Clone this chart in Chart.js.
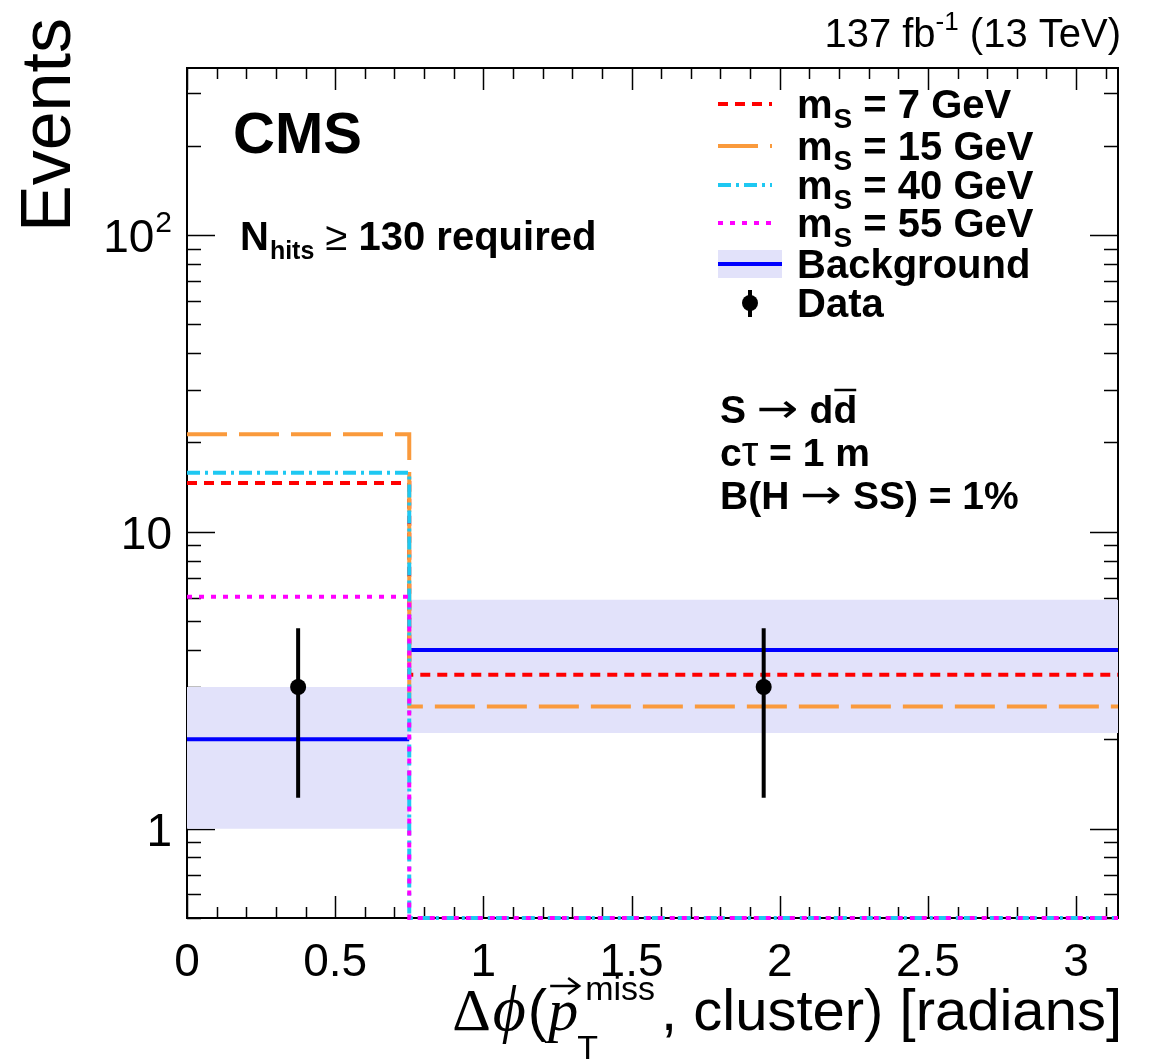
<!DOCTYPE html>
<html><head><meta charset="utf-8">
<script src="https://cdn.jsdelivr.net/npm/chart.js@4"></script>
<style>html,body{margin:0;padding:0;background:#fff}canvas{display:block}</style>
</head><body>
<canvas id="c" width="1149" height="1061"></canvas>
<script>
// ---- data ----
const binEdges = [0, 0.75, Math.PI];
const binCenters = [0.375, 1.946];
const background = [2.0, 4.0];
const backgroundUp = [3.0, 5.9];
const backgroundDown = [1.0, 2.1];
const dataValues = [3, 3];
const dataErrors = [1.73, 1.73];
const sigM7 = [14.6, 3.3];
const sigM15 = [21.3, 2.58];
const sigM40 = [15.8, 0];
const sigM55 = [6.04, 0];
const xTickValues = [0, 0.5, 1, 1.5, 2, 2.5, 3];
const xTickLabels = ['0', '0.5', '1', '1.5', '2', '2.5', '3'];
const yMajorValues = [1, 10, 100];
const yMajorLabels = [['1', ''], ['10', ''], ['10', '2']];
const yMin = 0.5, yMax = 365;

const SANS = '"Liberation Sans", Arial, Helvetica, sans-serif';
const SERIF = '"Liberation Serif", "DejaVu Serif", "Times New Roman", serif';
const ARROWF = '"DejaVu Sans", sans-serif';
const C_RED = '#ff0000', C_ORANGE = '#fa9a3c', C_CYAN = '#1ec8f2', C_MAG = '#ff00ff', C_BLUE = '#0000ff', C_BAND = '#e2e2fa';

function steps(vals) {
  const pts = [];
  for (let i = 0; i < vals.length; i++) {
    const v = vals[i] > 0 ? vals[i] : yMin;
    pts.push({x: binEdges[i], y: v}, {x: binEdges[i + 1], y: v});
  }
  return pts;
}
function segments(vals) {
  const pts = [];
  for (let i = 0; i < vals.length; i++) {
    if (i > 0) pts.push({x: binEdges[i], y: null});
    pts.push({x: binEdges[i], y: vals[i]}, {x: binEdges[i + 1], y: vals[i]});
  }
  return pts;
}
function lineDs(label, data, color, dash, width, order) {
  return {label, data, borderColor: color, borderWidth: width, borderDash: dash, spanGaps: false,
    pointRadius: 0, fill: false, tension: 0, order, borderCapStyle: 'butt', borderJoinStyle: 'miter', clip: 6};
}

function rich(ctx, segs, x, y, align) {
  let w = 0;
  segs.forEach(s => { ctx.font = s.f; s.w = (s.sx || 1) * ctx.measureText(s.t).width; w += s.w + (s.dx || 0); });
  let cx = align === 'right' ? x - w : (align === 'center' ? x - w / 2 : x);
  segs.forEach(s => {
    ctx.font = s.f;
    if (s.sx) {
      ctx.save(); ctx.translate(cx + (s.dx || 0), y + (s.dy || 0)); ctx.scale(s.sx, 1);
      ctx.fillText(s.t, 0, 0); ctx.restore();
    } else {
      ctx.fillText(s.t, cx + (s.dx || 0), y + (s.dy || 0));
    }
    s.x = cx + (s.dx || 0);
    cx += s.w + (s.dx || 0);
  });
  return segs;
}

const decor = {
  id: 'decor',
  beforeDatasetsDraw(chart) {
    const ctx = chart.ctx, xs = chart.scales.x, ys = chart.scales.y, a = chart.chartArea;
    ctx.save();
    ctx.strokeStyle = '#000'; ctx.lineWidth = 2;
    ctx.strokeRect(a.left, a.top, a.right - a.left, a.bottom - a.top);
    ctx.lineWidth = 1.5;
    for (let k = 0; k <= 31; k++) {
      const v = k / 10;
      const px = Math.round(xs.getPixelForValue(v)) + 0.5;
      const len = (k % 5 === 0) ? 22 : 11;
      ctx.beginPath();
      ctx.moveTo(px, a.bottom); ctx.lineTo(px, a.bottom - len);
      ctx.moveTo(px, a.top); ctx.lineTo(px, a.top + len);
      ctx.stroke();
    }
    [0.1, 1, 10, 100].forEach(d => {
      for (let m = 1; m <= 9; m++) {
        const v = d * m;
        if (v < yMin || v > yMax) continue;
        const py = Math.round(ys.getPixelForValue(v)) + 0.5;
        const len = (m === 1) ? 28 : 14;
        ctx.beginPath();
        ctx.moveTo(a.left, py); ctx.lineTo(a.left + len, py);
        ctx.moveTo(a.right, py); ctx.lineTo(a.right - len, py);
        ctx.stroke();
      }
    });
    ctx.restore();
  },
  afterDatasetsDraw(chart) {
    const ctx = chart.ctx, xs = chart.scales.x, ys = chart.scales.y;
    ctx.save();
    ctx.strokeStyle = '#000'; ctx.lineWidth = 4;
    for (let i = 0; i < binCenters.length; i++) {
      const px = xs.getPixelForValue(binCenters[i]);
      ctx.beginPath();
      ctx.moveTo(px, ys.getPixelForValue(dataValues[i] - dataErrors[i]));
      ctx.lineTo(px, ys.getPixelForValue(dataValues[i] + dataErrors[i]));
      ctx.stroke();
    }
    ctx.restore();
  },
  afterDraw(chart) {
    const ctx = chart.ctx, xs = chart.scales.x, ys = chart.scales.y;
    ctx.save();
    ctx.fillStyle = '#000'; ctx.strokeStyle = '#000';
    ctx.textBaseline = 'alphabetic'; ctx.textAlign = 'left';
    // x tick labels
    xTickValues.forEach((v, i) => {
      rich(ctx, [{t: xTickLabels[i], f: '46px ' + SANS}], xs.getPixelForValue(v), 976, 'center');
    });
    // y tick labels
    yMajorValues.forEach((v, i) => {
      const py = ys.getPixelForValue(v);
      const segs = [{t: yMajorLabels[i][0], f: '46px ' + SANS}];
      if (yMajorLabels[i][1]) segs.push({t: yMajorLabels[i][1], f: '30px ' + SANS, dy: -20, dx: 1});
      rich(ctx, segs, 172, py + 17, 'right');
    });
    // y title
    ctx.save();
    ctx.translate(70, 18);
    ctx.rotate(-Math.PI / 2);
    ctx.font = '70px ' + SANS;
    ctx.textAlign = 'right';
    ctx.fillText('Events', 0, 0);
    ctx.restore();
    // x title
    const bx = 1122, by = 1030;
    ctx.font = '58px ' + SANS;
    const tail = ', cluster) [radians]';
    const wTail = ctx.measureText(tail).width;
    const tx0 = bx - wTail;
    ctx.fillText(tail, tx0, by);
    ctx.font = '34px ' + SANS;
    const wMiss = ctx.measureText('miss').width;
    const xMiss = tx0 - 6 - wMiss;
    ctx.fillText('miss', xMiss, by - 30);
    const xT = xMiss - 8;
    ctx.fillText('T', xT, by + 29);
    ctx.font = 'italic 60px ' + SERIF;
    const wp = ctx.measureText('p').width;
    const xp = xT - wp + 1;
    ctx.fillText('p', xp, by);
    ctx.lineWidth = 2.5;
    const ay = by - 44, ax0 = xp + 2, ax1 = xT + 2;
    ctx.beginPath();
    ctx.moveTo(ax0, ay); ctx.lineTo(ax1, ay);
    ctx.moveTo(ax1 - 11, ay - 8); ctx.lineTo(ax1, ay); ctx.lineTo(ax1 - 11, ay + 8);
    ctx.stroke();
    ctx.font = '58px ' + SANS;
    const wpar = ctx.measureText('(').width;
    const xpar = xp - wpar - 1;
    ctx.fillText('(', xpar, by);
    ctx.font = 'italic 64px ' + SERIF;
    const wphi = ctx.measureText('\u03D5').width;
    const xphi = xpar - wphi - 2;
    ctx.fillText('\u03D5', xphi, by);
    ctx.font = '60px ' + SERIF;
    const wD = ctx.measureText('\u0394').width;
    ctx.fillText('\u0394', xphi - wD - 2, by);

    // top-right lumi
    rich(ctx, [{t: '137 fb', f: '40px ' + SANS}, {t: '-1', f: '26px ' + SANS, dy: -17},
      {t: ' (13 TeV)', f: '40px ' + SANS}], 1121, 47, 'right');
    // CMS
    rich(ctx, [{t: 'CMS', f: 'bold 58px ' + SANS}], 233, 153, 'left');
    // N_hits
    rich(ctx, [{t: 'N', f: 'bold 40px ' + SANS}, {t: 'hits', f: 'bold 25px ' + SANS, dy: 9, dx: 1},
      {t: ' ', f: 'bold 40px ' + SANS}, {t: '\u2265', f: '40px ' + SANS},
      {t: ' 130 required', f: 'bold 40px ' + SANS}], 240, 250, 'left');
    // annotations
    const af = 'bold 39px ' + SANS, arf = '40px ' + ARROWF;
    const l1 = rich(ctx, [{t: 'S ', f: af}, {t: '\u2192', f: arf, sx: 1.25, dy: -1}, {t: ' d', f: af}, {t: 'd', f: af}], 720, 423, 'left');
    ctx.lineWidth = 2.5;
    ctx.beginPath();
    ctx.moveTo(l1[3].x + 1, 423 - 33); ctx.lineTo(l1[3].x + l1[3].w - 1, 423 - 33); ctx.stroke();
    rich(ctx, [{t: 'c', f: af}, {t: '\u03C4', f: '42px ' + SANS}, {t: ' = 1 m', f: af}], 720, 466, 'left');
    rich(ctx, [{t: 'B(H ', f: af}, {t: '\u2192', f: arf, sx: 1.25, dy: -1}, {t: ' SS) = 1%', f: af}], 720, 509, 'left');

    // legend
    const lf = 'bold 40px ' + SANS, lfs = 'bold 28px ' + SANS;
    const lx0 = 718, lx1 = 772, tx = 797;
    const items = [
      {y: 104, c: C_RED, d: [10, 7], lab: '7'},
      {y: 146, c: C_ORANGE, d: [40, 12], lab: '15'},
      {y: 185, c: C_CYAN, d: [13, 5, 3, 5], lab: '40'},
      {y: 223, c: C_MAG, d: [5, 7], lab: '55'}
    ];
    items.forEach(it => {
      ctx.strokeStyle = it.c; ctx.lineWidth = 4; ctx.setLineDash(it.d);
      ctx.beginPath(); ctx.moveTo(lx0, it.y); ctx.lineTo(lx1, it.y); ctx.stroke();
      ctx.setLineDash([]);
      rich(ctx, [{t: 'm', f: lf}, {t: 'S', f: lfs, dy: 10, dx: 1}, {t: ' = ' + it.lab + ' GeV', f: lf}], tx, it.y + 14, 'left');
    });
    ctx.fillStyle = C_BAND;
    ctx.fillRect(718, 250, 64, 28);
    ctx.strokeStyle = C_BLUE; ctx.lineWidth = 4;
    ctx.beginPath(); ctx.moveTo(718, 264); ctx.lineTo(782, 264); ctx.stroke();
    ctx.fillStyle = '#000';
    rich(ctx, [{t: 'Background', f: lf}], tx, 278, 'left');
    ctx.strokeStyle = '#000'; ctx.lineWidth = 4;
    ctx.beginPath(); ctx.moveTo(750, 290); ctx.lineTo(750, 317); ctx.stroke();
    ctx.beginPath(); ctx.arc(750, 303, 8, 0, Math.PI * 2); ctx.fill();
    rich(ctx, [{t: 'Data', f: lf}], tx, 317, 'left');
    ctx.restore();
  }
};

new Chart(document.getElementById('c'), {
  type: 'line',
  data: {
    datasets: [
      {label: 'Data', data: binCenters.map((x, i) => ({x, y: dataValues[i]})), showLine: false,
        pointRadius: 8, pointBackgroundColor: '#000', pointBorderColor: '#000', pointBorderWidth: 0, order: 0},
      lineDs('m_S = 55 GeV', steps(sigM55), C_MAG, [5, 7], 4, 1),
      lineDs('m_S = 40 GeV', steps(sigM40), C_CYAN, [13, 5, 3, 5], 4, 2),
      lineDs('m_S = 15 GeV', steps(sigM15), C_ORANGE, [40, 12], 4, 3),
      lineDs('m_S = 7 GeV', steps(sigM7), C_RED, [10, 7], 4, 4),
      lineDs('Background', segments(background), C_BLUE, [], 4, 5),
      {label: 'bkg up', data: steps(backgroundUp), borderWidth: 0, pointRadius: 0, fill: '+1',
        backgroundColor: C_BAND, borderColor: 'rgba(0,0,0,0)', order: 6},
      {label: 'bkg down', data: steps(backgroundDown), borderWidth: 0, pointRadius: 0, fill: false,
        borderColor: 'rgba(0,0,0,0)', order: 7}
    ]
  },
  options: {
    responsive: false, animation: false, events: [],
    layout: {padding: {left: 187, right: 31, top: 68, bottom: 143}},
    plugins: {legend: {display: false}, tooltip: {enabled: false}},
    scales: {
      x: {type: 'linear', min: 0, max: Math.PI, display: false},
      y: {type: 'logarithmic', min: yMin, max: yMax, display: false}
    }
  },
  plugins: [decor]
});
</script>
</body></html>
